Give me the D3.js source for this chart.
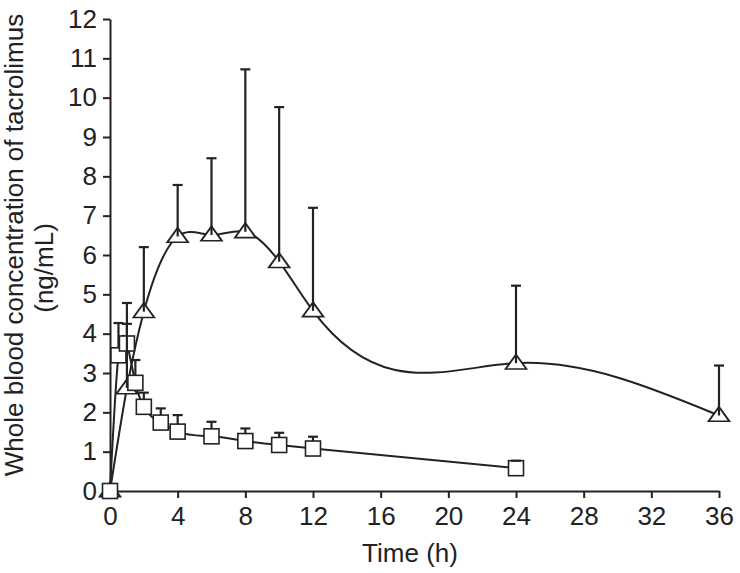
<!DOCTYPE html>
<html>
<head>
<meta charset="utf-8">
<script src="https://cdn.jsdelivr.net/npm/d3@7"></script>
<style>
	body { margin: 0; background: #fff; }
	text { font-family: "Liberation Sans", Arial, sans-serif; fill: #222; }
</style>
</head>
<body>
<div id="chart"></div>
<script>
// Data
var timeTriangle = [0, 1, 2, 4, 6, 8, 10, 12, 24, 36];
var meanTriangle = [0, 2.62, 4.56, 6.47, 6.51, 6.59, 5.83, 4.58, 3.25, 1.92];
var upperTriangle = [null, 4.78, 6.2, 7.78, 8.46, 10.72, 9.76, 7.2, 5.22, 3.19];

var timeSquare = [0, 0.5, 1, 1.5, 2, 3, 4, 6, 8, 10, 12, 24];
var meanSquare = [0, 3.45, 3.75, 2.75, 2.14, 1.74, 1.51, 1.39, 1.27, 1.17, 1.08, 0.58];
var upperSquare = [null, 4.27, 4.25, 3.33, 2.5, 2.1, 1.93, 1.76, 1.59, 1.48, 1.38, 0.77];

var xTicks = [0, 4, 8, 12, 16, 20, 24, 28, 32, 36];
var yTicks = [0, 1, 2, 3, 4, 5, 6, 7, 8, 9, 10, 11, 12];

var width = 740, height = 573,
		margin = {top: 19, right: 21, bottom: 82, left: 110},
		ink = "#222",
		fontSize = "26px";

// Natural cubic spline of y as a function of x (the plotting program's smooth line),
// written as a d3 curve so d3.line can use it
function curveNaturalX(context) {
	var xs, ys;
	return {
		areaStart: function() {},
		areaEnd: function() {},
		lineStart: function() { xs = []; ys = []; },
		point: function(x, y) { xs.push(+x); ys.push(+y); },
		lineEnd: function() {
			var n = xs.length - 1;
			if (n < 0) return;
			context.moveTo(xs[0], ys[0]);
			if (n < 1) return;
			var h = [], i;
			for (i = 0; i < n; i++) h[i] = xs[i + 1] - xs[i];
			// tridiagonal system for second derivatives, M0 = Mn = 0
			var M = new Array(n + 1).fill(0);
			if (n > 1) {
				var a = [], b = [], c = [], r = [];
				for (i = 1; i < n; i++) {
					a[i] = h[i - 1];
					b[i] = 2 * (h[i - 1] + h[i]);
					c[i] = h[i];
					r[i] = 6 * ((ys[i + 1] - ys[i]) / h[i] - (ys[i] - ys[i - 1]) / h[i - 1]);
				}
				for (i = 2; i < n; i++) {
					var m = a[i] / b[i - 1];
					b[i] -= m * c[i - 1];
					r[i] -= m * r[i - 1];
				}
				M[n - 1] = r[n - 1] / b[n - 1];
				for (i = n - 2; i >= 1; i--) M[i] = (r[i] - c[i] * M[i + 1]) / b[i];
			}
			for (i = 0; i < n; i++) {
				var s = (ys[i + 1] - ys[i]) / h[i];
				var d0 = s - h[i] * (2 * M[i] + M[i + 1]) / 6;
				var d1 = s + h[i] * (M[i] + 2 * M[i + 1]) / 6;
				context.bezierCurveTo(
					xs[i] + h[i] / 3, ys[i] + d0 * h[i] / 3,
					xs[i + 1] - h[i] / 3, ys[i + 1] - d1 * h[i] / 3,
					xs[i + 1], ys[i + 1]);
			}
		}
	};
}

var svg = d3.select("#chart").append("svg")
		.attr("width", width)
		.attr("height", height);

var x = d3.scaleLinear().domain([0, 36]).range([margin.left, width - margin.right]);
var y = d3.scaleLinear().domain([0, 12]).range([height - margin.bottom, margin.top]);

// Axes
var xAxis = svg.append("g")
		.attr("transform", "translate(0," + y(0) + ")")
		.call(d3.axisBottom(x).tickValues(xTicks).tickSize(7).tickSizeOuter(0).tickPadding(6));
var yAxis = svg.append("g")
		.attr("transform", "translate(" + x(0) + ",0)")
		.call(d3.axisLeft(y).tickValues(yTicks).tickSize(7).tickSizeOuter(0).tickPadding(6));

[xAxis, yAxis].forEach(function(a) {
	a.selectAll("path, line").attr("stroke", ink).attr("stroke-width", 2);
	a.selectAll("text").style("font-size", fontSize).attr("fill", ink);
});
xAxis.selectAll("text").attr("dy", "0.8em");

// Axis titles
svg.append("text")
		.attr("x", 410)
		.attr("y", 562)
		.attr("text-anchor", "middle")
		.style("font-size", fontSize)
		.text("Time (h)");

svg.append("text")
		.attr("transform", "translate(23,245) rotate(-90)")
		.attr("text-anchor", "middle")
		.style("font-size", fontSize)
		.text("Whole blood concentration of tacrolimus");
svg.append("text")
		.attr("transform", "translate(53,268) rotate(-90)")
		.attr("text-anchor", "middle")
		.style("font-size", fontSize)
		.text("(ng/mL)");

function series(times, means, uppers) {
	return times.map(function(t, i) { return {t: t, v: means[i], up: uppers[i]}; });
}

var tri = series(timeTriangle, meanTriangle, upperTriangle);
var sq = series(timeSquare, meanSquare, upperSquare);

// Lines
var line = d3.line()
		.x(function(d) { return x(d.t); })
		.y(function(d) { return y(d.v); })
		.curve(curveNaturalX);

[tri, sq].forEach(function(pts) {
	svg.append("path")
			.datum(pts)
			.attr("d", line)
			.attr("fill", "none")
			.attr("stroke", ink)
			.attr("stroke-width", 2);
});

// Markers
var triPath = d3.symbol().type(d3.symbolTriangle).size(120);
svg.append("g").selectAll("path")
		.data(tri)
		.enter().append("path")
			.attr("d", triPath)
			.attr("transform", function(d) { return "translate(" + x(d.t) + "," + (y(d.v) + 1) + ") scale(1.25,1)"; })
			.attr("fill", "#fff")
			.attr("stroke", ink)
			.attr("stroke-width", 1.6);

svg.append("g").selectAll("rect")
		.data(sq)
		.enter().append("rect")
			.attr("x", function(d) { return x(d.t) - 7.5; })
			.attr("y", function(d) { return y(d.v) - 7.5; })
			.attr("width", 15)
			.attr("height", 15)
			.attr("fill", "#fff")
			.attr("stroke", ink)
			.attr("stroke-width", 1.6);

// Error bars (upper only)
[tri, sq].forEach(function(pts, k) {
	var bars = pts.filter(function(d) { return d.up != null; });
	var g = svg.append("g").attr("stroke", ink).attr("stroke-width", 2.2);
	g.selectAll(".stem")
			.data(bars)
			.enter().append("line")
				.attr("x1", function(d) { return x(d.t); })
				.attr("x2", function(d) { return x(d.t); })
				.attr("y1", function(d) { return k === 0 ? y(d.v) : y(d.v) - 7.5; })
				.attr("y2", function(d) { return y(d.up); });
	g.selectAll(".cap")
			.data(bars)
			.enter().append("line")
				.attr("x1", function(d) { return x(d.t) - 5; })
				.attr("x2", function(d) { return x(d.t) + 5; })
				.attr("y1", function(d) { return y(d.up); })
				.attr("y2", function(d) { return y(d.up); });
});
</script>
</body>
</html>
